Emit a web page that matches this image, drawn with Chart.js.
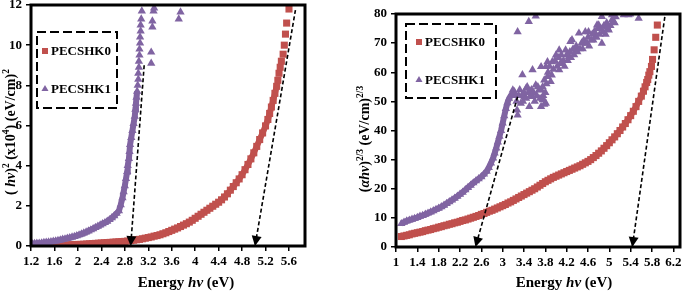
<!DOCTYPE html>
<html>
<head>
<meta charset="utf-8">
<script src="https://cdn.jsdelivr.net/npm/chart.js@4/dist/chart.umd.min.js"></script>
<style>
  body { margin: 0; background: #fff; }
  #wrap { position: relative; width: 685px; height: 292px; }
  canvas { position: absolute; top: 0; }
</style>
</head>
<body>
<div id="wrap">
  <canvas id="left" width="340" height="292" style="left:0;width:340px;height:292px"></canvas>
  <canvas id="right" width="340" height="292" style="left:345px;width:340px;height:292px"></canvas>
</div>
<script>
// tick labels
const xTicksLeft = [1.2, 1.6, 2, 2.4, 2.8, 3.2, 3.6, 4, 4.4, 4.8, 5.2, 5.6];
const xTicksRight = [1, 1.4, 1.8, 2.2, 2.6, 3, 3.4, 3.8, 4.2, 4.6, 5, 5.4, 5.8, 6.2];

// left panel: (hv)^2, PECSHK0
const k0LeftX = [1.20,1.25,1.30,1.35,1.40,1.45,1.50,1.55,1.60,1.65,1.70,1.75,1.80,1.85,1.90,1.95,
  2.00,2.05,2.10,2.15,2.20,2.25,2.30,2.35,2.40,2.45,2.50,2.55,2.60,2.65,2.70,2.75,2.80,2.85,2.90,2.95,
  3.00,3.05,3.10,3.15,3.20,3.25,3.30,3.35,3.40,3.45,3.50,3.55,3.60,3.65,3.70,3.75,3.80,3.85,3.90,3.95,
  4.00,4.05,4.10,4.15,4.20,4.25,4.30,4.35,4.40,4.45,4.50,4.55,4.60,4.65,4.70,4.75,4.80,4.85,4.90,4.95,
  5.00,5.05,5.10,5.15,5.20,5.24,5.27,5.30,5.33,5.36,5.39,5.41,5.43,5.45,5.47,5.50,5.52,5.54,5.56,5.60];
const k0LeftY = [0.00,0.01,0.01,0.01,0.02,0.02,0.02,0.03,0.03,0.04,0.04,0.05,0.05,0.06,0.06,0.07,
  0.08,0.08,0.09,0.10,0.11,0.12,0.13,0.14,0.15,0.16,0.17,0.18,0.19,0.20,0.21,0.22,0.23,0.25,0.27,0.29,
  0.31,0.33,0.36,0.39,0.42,0.45,0.49,0.52,0.56,0.61,0.66,0.72,0.78,0.84,0.90,0.97,1.04,1.11,1.19,1.28,
  1.38,1.48,1.58,1.68,1.78,1.88,1.98,2.08,2.18,2.30,2.44,2.60,2.78,2.96,3.15,3.34,3.55,3.80,4.06,4.34,
  4.64,4.96,5.30,5.63,5.98,6.30,6.60,6.92,7.25,7.60,7.95,8.25,8.60,8.90,9.20,9.55,10.00,10.55,11.10,11.80];

// left panel: PECSHK1
const k1LeftX = [1.18,1.22,1.26,1.30,1.34,1.38,1.42,1.46,1.50,1.54,1.58,1.62,1.66,1.70,1.74,1.78,
  1.82,1.86,1.90,1.94,1.98,2.02,2.06,2.10,2.14,2.18,2.22,2.26,2.30,2.34,2.38,2.42,2.46,2.50,2.54,2.58,
  2.62,2.66,2.70,2.73,2.76,2.78,2.80,2.82,2.84,2.85,2.87,2.88,2.89,2.91,2.93,2.95,2.97,2.98,2.99,3.00,
  3.01,3.02,3.03,3.03,3.04,3.04,3.05,3.05,3.06,3.06,3.07,3.07,3.08,3.09,
  3.25,3.25,3.27,3.27,3.29,3.30,3.72,3.75];
const k1LeftY = [0.10,0.11,0.12,0.13,0.14,0.15,0.17,0.18,0.20,0.21,0.23,0.25,0.27,0.30,0.33,0.35,
  0.38,0.41,0.44,0.47,0.51,0.55,0.59,0.64,0.69,0.74,0.80,0.86,0.92,0.98,1.04,1.10,1.16,1.23,1.31,1.40,
  1.50,1.62,1.75,2.05,2.40,2.70,3.00,3.35,3.70,4.00,4.35,4.70,5.05,5.40,5.75,6.10,6.45,6.80,7.10,7.40,
  7.70,8.00,8.30,8.60,8.90,9.20,9.50,9.80,10.10,10.40,10.70,11.00,11.30,11.70,
  9.10,9.65,10.90,11.20,11.70,11.85,11.30,11.65];

// left panel: extrapolation arrows
const arrowLeftAX = [3.13, 2.90], arrowLeftAY = [9.0, 0];
const arrowLeftBX = [5.71, 5.02], arrowLeftBY = [11.75, 0];

// right panel: (ahv)^(2/3), PECSHK0
const k0RightX = [1.10,1.15,1.20,1.25,1.30,1.35,1.40,1.45,1.50,1.55,1.60,1.65,1.70,1.75,1.80,1.85,
  1.90,1.95,2.00,2.05,2.10,2.15,2.20,2.25,2.30,2.35,2.40,2.45,2.50,2.55,2.60,2.65,2.70,2.75,2.80,2.85,
  2.90,2.95,3.00,3.05,3.10,3.15,3.20,3.25,3.30,3.35,3.40,3.45,3.50,3.55,3.60,3.65,3.70,3.75,3.80,3.85,
  3.90,3.95,4.00,4.05,4.10,4.15,4.20,4.25,4.30,4.35,4.40,4.45,4.50,4.55,4.60,4.65,4.70,4.75,4.80,4.85,
  4.90,4.95,5.00,5.05,5.10,5.15,5.20,5.25,5.30,5.35,5.40,5.45,5.50,5.55,5.60,5.64,5.67,5.70,5.72,5.74,
  5.76,5.79,5.81,5.84,5.87,5.90];
const k0RightY = [3.6,3.8,4.0,4.2,4.5,4.7,4.9,5.1,5.3,5.6,5.8,6.0,6.3,6.5,6.8,7.0,
  7.3,7.5,7.8,8.0,8.3,8.5,8.8,9.1,9.3,9.6,9.9,10.2,10.5,10.8,11.2,11.5,11.9,12.3,12.6,13.0,
  13.4,13.8,14.2,14.6,15.1,15.5,16.0,16.5,17.0,17.5,18.0,18.5,19.0,19.5,20.0,20.6,21.2,21.8,22.4,22.9,
  23.4,23.9,24.3,24.7,25.1,25.5,25.9,26.3,26.7,27.1,27.5,27.9,28.4,28.9,29.4,30.0,30.7,31.4,32.2,33.0,
  33.9,34.8,35.8,36.8,37.8,38.9,40.0,41.2,42.4,43.7,45.1,46.6,48.2,50.0,51.8,53.5,55.0,56.5,57.5,59.0,
  60.2,62.0,64.4,67.7,72.0,76.2];

// right panel: PECSHK1 (first 49 points form the smooth edge, the rest is the noisy cloud)
const k1RightX = [1.10,1.15,1.20,1.25,1.30,1.35,1.40,1.45,1.50,1.55,1.60,1.65,1.70,1.75,1.80,1.85,
  1.90,1.95,2.00,2.05,2.10,2.15,2.20,2.25,2.30,2.35,2.40,2.45,2.50,2.55,2.60,2.65,2.70,2.74,2.78,2.82,
  2.85,2.88,2.91,2.94,2.97,3.00,3.03,3.06,3.09,3.12,3.16,3.20,3.22,
  3.28,3.49,3.62,4.86,5.05,5.27,5.39,5.55,5.08,4.80,4.99,4.55,4.43,4.30,4.74,4.86,4.55,4.37,4.18,4.06,
  4.00,4.24,3.93,4.12,3.81,4.06,3.56,3.37,3.84,3.90,3.19,3.44,3.62,3.68,3.41,3.56,3.75,3.81,3.34,3.50,
  3.72,3.28,3.27,
  3.85,3.88,3.92,3.95,3.98,4.02,4.05,4.08,4.10,4.14,4.16,4.20,4.22,4.26,4.28,4.32,4.34,4.38,4.40,4.45,
  4.48,4.50,4.52,4.58,4.60,4.62,4.66,4.68,4.70,4.72,4.76,4.78,4.82,4.84,4.88,4.90,4.93,4.95,4.97,5.02,
  5.05,5.10,5.12,
  3.24,3.26,3.30,3.32,3.36,3.38,3.40,3.44,3.46,3.48,3.52,3.54,3.58,3.60,3.64,3.66,3.70,3.72,3.76,3.78,
  3.80,3.82,3.72,3.84,3.78,3.75,3.75,4.27,4.61,4.77,4.96,5.36];
const k1RightY = [8.0,8.5,8.9,9.2,9.5,9.8,10.1,10.5,10.8,11.2,11.6,12.0,12.4,12.9,13.3,13.8,
  14.3,14.9,15.5,16.1,16.7,17.4,18.1,18.8,19.6,20.4,21.2,22.0,22.7,23.4,24.1,25.0,26.0,27.3,28.8,30.5,
  32.2,34.0,36.0,38.0,40.0,42.5,45.0,47.5,49.5,51.0,52.2,53.0,53.3,
  73.9,77.4,79.3,79.1,79.7,79.7,80.0,78.5,77.4,76.2,74.5,73.9,73.4,71.1,72.2,69.9,69.9,67.6,67.6,67.6,
  65.9,65.3,63.6,63.1,61.9,60.8,60.8,59.1,58.5,56.8,53.9,54.5,55.6,53.9,51.6,51.6,51.1,49.3,49.3,48.2,
  48.2,45.3,47.0,
  60,62,59,61,64,62,65,63,66,64,62,66,64,67,65,68,66,69,67,68,
  70,68,71,70,72,69,71,73,71,74,72,75,73,75,74,76,73,77,75,76,
  78,77,79,
  52,50,52,54,52,50,53,51,55,53,52,54,53,50,52,55,51,54,52,49,
  53,56,61.9,63.6,57.3,55.0,50.5,70.5,73.9,76.2,75.6,79.7];

// right panel: extrapolation arrows
const arrowRightAX = [3.28, 2.49], arrowRightAY = [51.6, 0];
const arrowRightBX = [6.04, 5.43], arrowRightBY = [79.0, 0];

const RED = '#C0504D';
const PURPLE = '#8064A2';
const FONT = '"Liberation Serif", "Times New Roman", serif';

function pts(xs, ys) {
  return xs.map((x, i) => ({ x: x, y: ys[i] }));
}

function drawRich(ctx, segs, x, y, size, rot) {
  ctx.save();
  ctx.translate(x, y);
  ctx.rotate(rot);
  ctx.fillStyle = '#000';
  ctx.textBaseline = 'alphabetic';
  const fontOf = s => (s.i ? 'italic ' : '') + 'bold ' + (s.sup ? size * 0.68 : size) + 'px ' + FONT;
  let total = 0;
  segs.forEach(s => { ctx.font = fontOf(s); total += ctx.measureText(s.t).width; });
  let cx = -total / 2;
  segs.forEach(s => {
    ctx.font = fontOf(s);
    ctx.fillText(s.t, cx, s.sup ? -size * 0.42 : 0);
    cx += ctx.measureText(s.t).width;
  });
  ctx.restore();
}

const decor = {
  id: 'decor',
  afterDatasetsDraw(chart, args, o) {
    const ctx = chart.ctx, a = chart.chartArea;
    // arrow heads
    chart.data.datasets.forEach((ds, i) => {
      if (!ds.arrow) return;
      const p = chart.getDatasetMeta(i).data;
      const p0 = p[0], p1 = p[p.length - 1];
      const ang = Math.atan2(p1.y - p0.y, p1.x - p0.x);
      ctx.save();
      ctx.translate(p1.x, p1.y);
      ctx.rotate(ang);
      ctx.beginPath();
      ctx.moveTo(0, 0);
      ctx.lineTo(-10, -5);
      ctx.lineTo(-10, 5);
      ctx.closePath();
      ctx.fillStyle = '#000';
      ctx.fill();
      ctx.restore();
    });
    // plot frame
    ctx.save();
    ctx.lineWidth = 3;
    ctx.strokeStyle = '#000';
    ctx.strokeRect(a.left, a.top, a.right - a.left, a.bottom - a.top);
    ctx.restore();
    // dashed legend box
    const L = o.legend;
    ctx.save();
    ctx.setLineDash([9, 4]);
    ctx.lineWidth = 2;
    ctx.strokeStyle = '#000';
    ctx.strokeRect(L.box[0], L.box[1], L.box[2], L.box[3]);
    ctx.setLineDash([]);
    L.rows.forEach((ry, k) => {
      const ds = chart.data.datasets[k];
      ctx.fillStyle = ds.backgroundColor;
      ctx.strokeStyle = ds.backgroundColor;
      Chart.helpers.drawPoint(ctx, { pointStyle: ds.pointStyle, radius: ds.pointRadius * 0.85, rotation: 0, borderWidth: 0 }, L.markerX, ry);
      ctx.fillStyle = '#000';
      ctx.font = 'bold 13px ' + FONT;
      ctx.textBaseline = 'middle';
      ctx.fillText(ds.label, L.textX, ry + 1);
    });
    ctx.restore();
  },
  afterDraw(chart, args, o) {
    const ctx = chart.ctx;
    drawRich(ctx, o.xTitle.segs, o.xTitle.x, o.xTitle.y, 15, 0);
    drawRich(ctx, o.yTitle.segs, o.yTitle.x, o.yTitle.y, 14, -Math.PI / 2);
  }
};

// dense markers in the source merge into a solid band; a thick line under the markers
// reproduces that, but only up to bandEnd and never across large gaps
function bandSegment(color, bandEnd) {
  return {
    borderColor: s => {
      if (s.p1DataIndex >= bandEnd) return 'transparent';
      const d = Math.hypot(s.p1.x - s.p0.x, s.p1.y - s.p0.y);
      return d > 10 ? 'transparent' : color;
    }
  };
}

function makeChart(id, c) {
  const tickFont = { family: FONT, weight: 'bold', size: 13 };
  const arrowDs = (xs, ys) => ({
    data: pts(xs, ys), showLine: true, borderColor: '#000', borderWidth: 1.6,
    borderDash: [4, 2.5], pointRadius: 0, arrow: true, order: -1
  });
  return new Chart(document.getElementById(id), {
    type: 'scatter',
    data: {
      datasets: [
        { label: 'PECSHK0', data: pts(c.k0x, c.k0y), pointStyle: 'rect', pointRadius: 5,
          backgroundColor: RED, borderColor: RED, pointBorderWidth: 0, borderWidth: 6,
          showLine: true, segment: bandSegment(RED, c.k0band), order: 1 },
        { label: 'PECSHK1', data: pts(c.k1x, c.k1y), pointStyle: 'triangle', pointRadius: 4.8,
          backgroundColor: PURPLE, borderColor: PURPLE, pointBorderWidth: 0, borderWidth: 6,
          showLine: true, segment: bandSegment(PURPLE, c.k1band), order: 0 },
        arrowDs(c.a1x, c.a1y),
        arrowDs(c.a2x, c.a2y)
      ]
    },
    options: {
      responsive: false,
      animation: false,
      layout: { padding: c.padding },
      plugins: {
        legend: { display: false },
        tooltip: { enabled: false },
        decor: c.decor
      },
      scales: {
        x: {
          type: 'linear', min: c.xMin, max: c.xMax,
          afterBuildTicks: s => { s.ticks = c.xTicks.map(v => ({ value: v })); },
          afterFit: s => { s.height = c.xH; s.paddingLeft = 0; s.paddingRight = 0; },
          grid: { drawOnChartArea: false, drawTicks: true, tickLength: 5, color: '#000', lineWidth: 1.5 },
          border: { display: false },
          ticks: { font: tickFont, color: '#000', padding: 3, maxRotation: 0, autoSkip: false,
            callback: v => String(v) }
        },
        y: {
          min: 0, max: c.yMax,
          afterFit: s => { s.width = c.yW; s.paddingTop = 0; s.paddingBottom = 0; },
          grid: { drawOnChartArea: false, drawTicks: true, tickLength: 5, color: '#000', lineWidth: 1.5 },
          border: { display: false },
          ticks: { font: tickFont, color: '#000', padding: 4, stepSize: c.yStep }
        }
      }
    },
    plugins: [decor]
  });
}

makeChart('left', {
  k0x: k0LeftX, k0y: k0LeftY, k1x: k1LeftX, k1y: k1LeftY, k0band: 87, k1band: 57,
  a1x: arrowLeftAX, a1y: arrowLeftAY, a2x: arrowLeftBX, a2y: arrowLeftBY,
  xMin: 1.2, xMax: 5.873, xTicks: xTicksLeft, yMax: 12, yStep: 2,
  padding: { left: 0, right: 35, top: 5, bottom: 0 }, xH: 46, yW: 31,
  decor: {
    legend: { box: [37, 32, 80, 76], markerX: 45, textX: 51, rows: [51, 89] },
    xTitle: { x: 186, y: 287, segs: [{ t: 'Energy ' }, { t: 'hν', i: true }, { t: ' (eV)' }] },
    yTitle: { x: 15, y: 132, segs: [{ t: '( ' }, { t: 'hν', i: true }, { t: ')' }, { t: '2', sup: true },
      { t: ' (x10' }, { t: '4', sup: true }, { t: ') (eV/cm)' }, { t: '2', sup: true }] }
  }
});

makeChart('right', {
  k0x: k0RightX, k0y: k0RightY, k1x: k1RightX, k1y: k1RightY, k0band: 94, k1band: 49,
  a1x: arrowRightAX, a1y: arrowRightAY, a2x: arrowRightBX, a2y: arrowRightBY,
  xMin: 1, xMax: 6.325, xTicks: xTicksRight, yMax: 80, yStep: 10,
  padding: { left: 0, right: 3, top: 14, bottom: 0 }, xH: 45, yW: 51,
  decor: {
    legend: { box: [61, 24, 90, 74], markerX: 74, textX: 80, rows: [42, 80] },
    xTitle: { x: 219, y: 287, segs: [{ t: 'Energy ' }, { t: 'hν', i: true }, { t: ' (eV)' }] },
    yTitle: { x: 24, y: 139, segs: [{ t: '(' }, { t: 'αhν', i: true }, { t: ')' }, { t: '2/3', sup: true },
      { t: ' (eV/cm)' }, { t: '2/3', sup: true }] }
  }
});
</script>
</body>
</html>
